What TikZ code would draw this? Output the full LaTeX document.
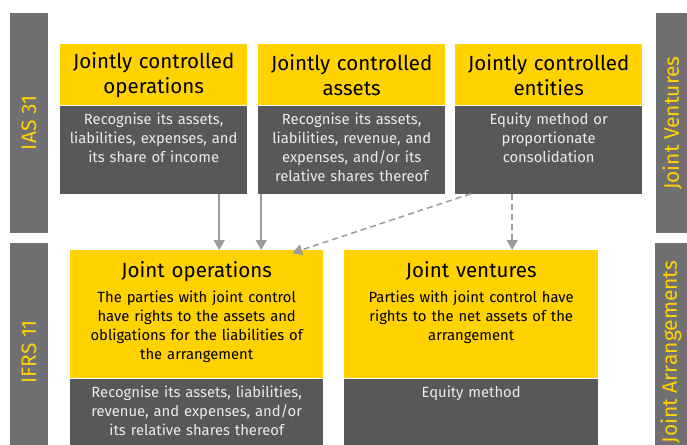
\documentclass[tikz,border=0pt]{standalone}
\usepackage{fontspec}
\setmainfont{Fira Sans}
\usetikzlibrary{arrows.meta}
\definecolor{eyyellow}{RGB}{255,210,0}
\definecolor{eydark}{RGB}{88,88,91}
\definecolor{eyside}{RGB}{112,112,115}
\definecolor{eyarrow}{RGB}{155,155,158}

\newcommand{\boxtitle}[1]{{\fontsize{20.5}{25}\selectfont\spaceskip=.3333em #1\par}\vspace{6pt}}

\tikzset{
  head/.style={fill=eyyellow,anchor=north west,inner sep=5pt,text width=#1-10pt,
    minimum width=#1,align=center,font=\fontsize{20.5}{25}\selectfont},
  arrangement/.style={fill=eyyellow,anchor=north west,inner sep=5pt,text width=#1-10pt,
    minimum width=#1,align=center,font=\fontsize{14.8}{19}\selectfont},
  body/.style={fill=eydark,text=white!88!eydark,anchor=north,inner sep=5pt,
    align=center,font=\fontsize{14.8}{19}\selectfont},
  side/.style={fill=eyside,text=eyyellow,rotate=90,inner sep=0pt,
    font=\fontsize{21}{24}\selectfont},
  link/.style={eyarrow,line width=1.5pt,-{Triangle[width=11pt,length=10pt]}}
}

\begin{document}
\begin{tikzpicture}[x=1pt,y=-1pt]
  \useasboundingbox (0,0) rectangle (687,444);
  \def\wtop{187};
  \def\htop{61};
  \def\hbody{88};
  % side bars
  \node[side,minimum width=220,minimum height=38] (ias) at (29,123){IAS 31};
  \node[side,minimum width=218,minimum height=38] (ifrs) at (29,352){IFRS 11};
  \node[side,minimum width=220,minimum height=32] (jvside) at (672,123){Joint Ventures};
  \node[side,minimum width=218,minimum height=32] (jaside) at (671,352){Joint Arrangements};

  % IAS 31 boxes
  \node[head=\wtop,minimum height=\htop] (ops) at (60,44){Jointly controlled\\operations};
  \node[body,text width=\wtop-10,text height=14pt,text depth=\hbody-24] (opsbody) at (ops.south)
    {Recognise its assets,\\liabilities, expenses, and\\its share of income};
  \node[head=\wtop,minimum height=\htop] (ast) at (258,44){Jointly controlled\\assets};
  \node[body,text width=\wtop-10,text height=14pt,text depth=\hbody-24] (astbody) at (ast.south)
    {Recognise its assets,\\liabilities, revenue, and\\expenses, and/or its\\relative shares thereof};
  \node[head=\wtop,minimum height=\htop] (ent) at (455,44){Jointly controlled\\entities};
  \node[body,text width=\wtop-10,text height=14pt,text depth=\hbody-24] (entbody) at (ent.south)
    {Equity method or\\proportionate\\consolidation};

  % IFRS 11 boxes
  \node[arrangement=253,text height=22pt,text depth=96pt] (jo) at (70,250)
    {\boxtitle{Joint operations}The parties with joint control\\have rights to the assets and\\obligations for the liabilities of\\the arrangement};
  \node[body,text width=243,text height=14pt,text depth=52pt] (jobody) at (jo.south)
    {Recognise its assets, liabilities,\\revenue, and expenses, and/or\\its relative shares thereof};
  \node[arrangement=254,text height=22pt,text depth=96pt] (jv) at (344,250)
    {\boxtitle{Joint ventures}Parties with joint control have\\rights to the net assets of the\\arrangement};
  \node[body,text width=244,text height=14pt,text depth=52pt] (jvbody) at (jv.south)
    {Equity method};

  % arrows
  \draw[link] ([xshift=65.5]opsbody.south)--([xshift=65.5]opsbody.south |- jo.north);
  \draw[link] ([xshift=-90.5]astbody.south)--([xshift=-90.5]astbody.south |- jo.north);
  \draw[link,dashed,dash pattern=on 6pt off 4pt] ([xshift=-78]entbody.south)--([xshift=95.5,yshift=-3]jo.north);
  \draw[link,dashed,dash pattern=on 6pt off 4pt] ([xshift=-36.5]entbody.south)--([xshift=-36.5]entbody.south |- jv.north);
\end{tikzpicture}
\end{document}
